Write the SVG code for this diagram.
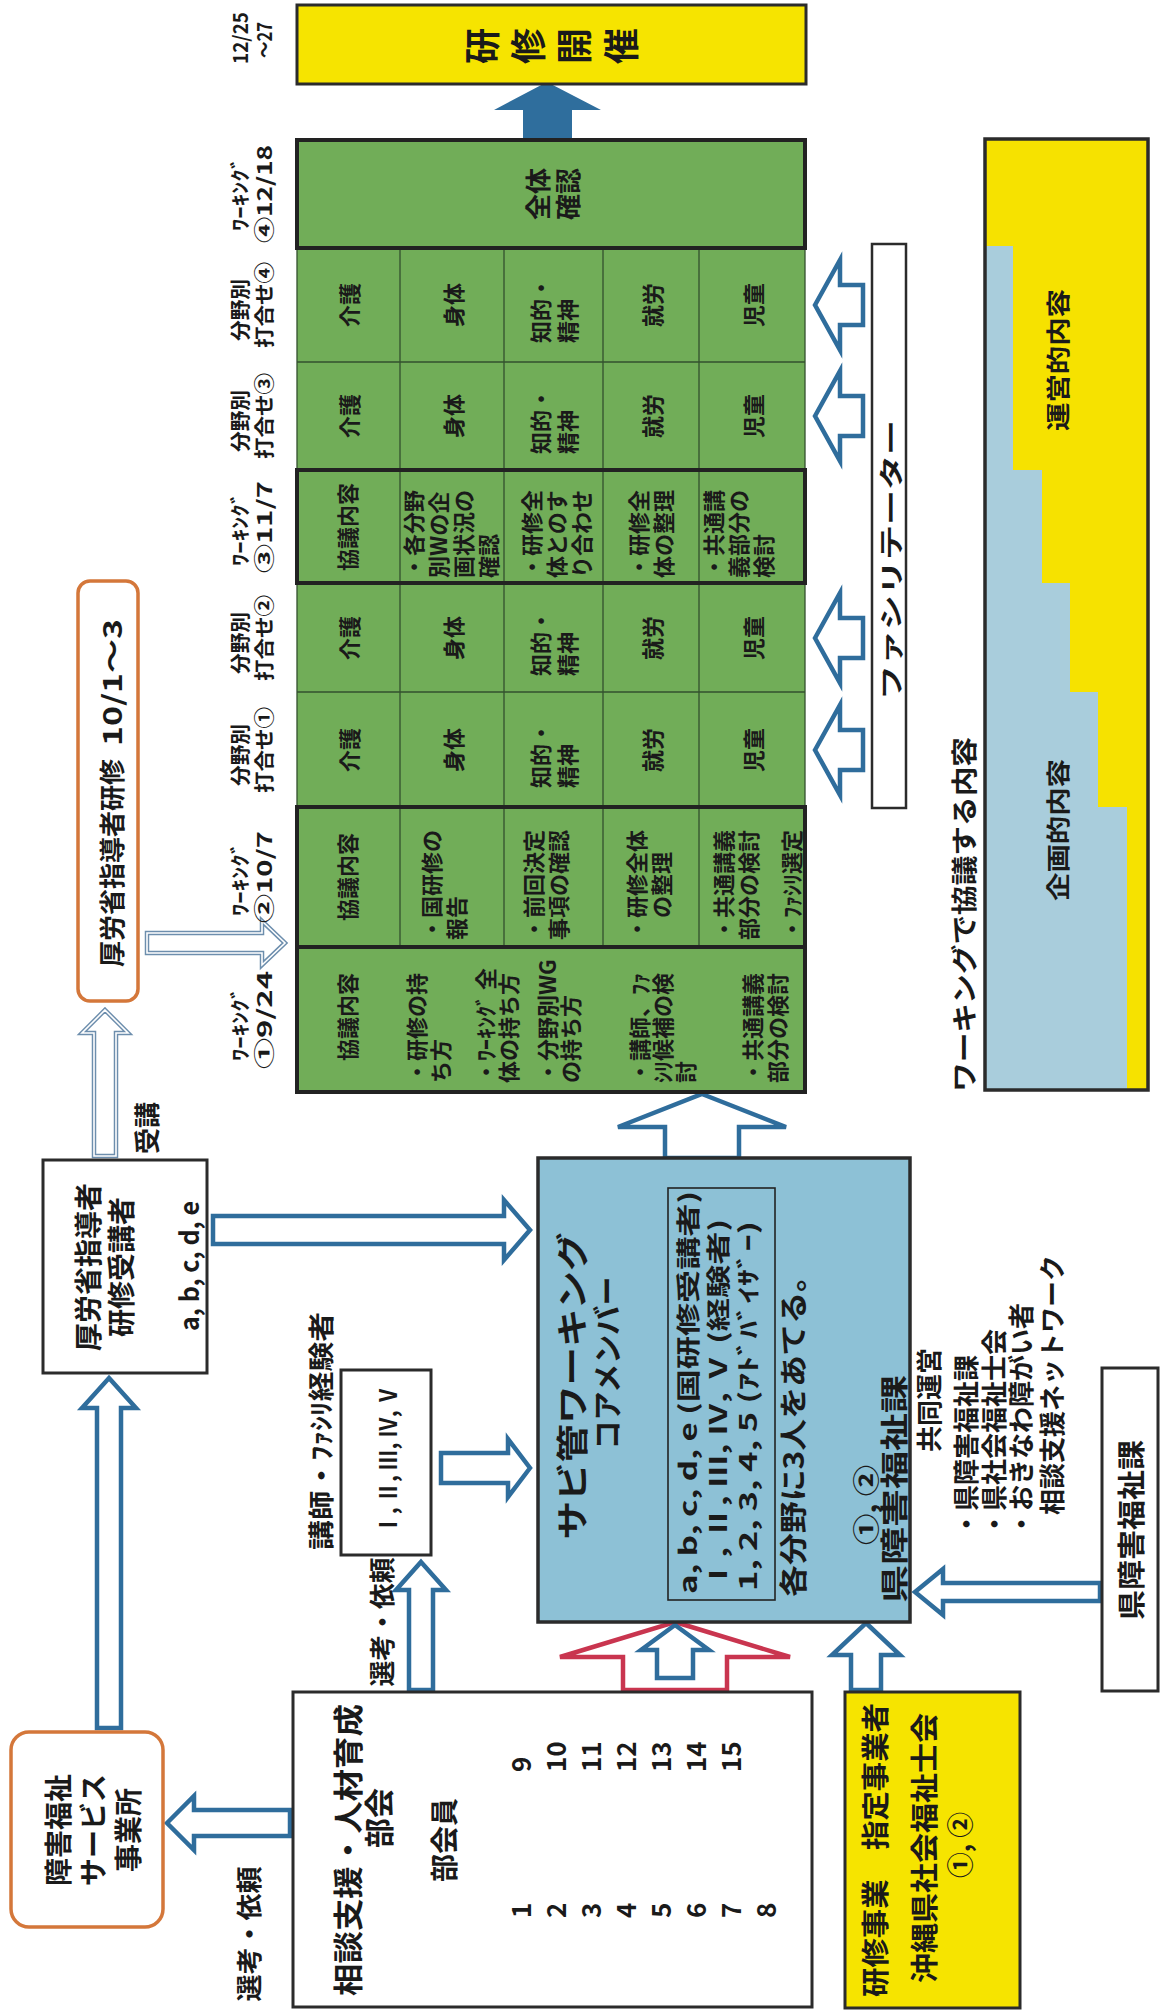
<svg xmlns="http://www.w3.org/2000/svg" width="1162" height="2010" viewBox="0 0 1162 2010">
<defs>
<style>
.t{font-family:"Noto Sans CJK JP","Noto Sans",sans-serif;font-weight:700;fill:#1a1a1a;dominant-baseline:central;text-anchor:middle}
.st{text-anchor:start}
.en{text-anchor:end}
.box{fill:#fff;stroke:#2b2b2b;stroke-width:3}
.ybox{fill:#f6e400;stroke:#2b2b2b;stroke-width:3}
.obox{fill:#fff;stroke:#d4773a;stroke-width:3.5}
.ha{fill:#fff;stroke:#2f6d9c;stroke-width:4.5;stroke-linejoin:miter}
.hr{fill:#fff;stroke:#c9354f;stroke-width:4.5;stroke-linejoin:miter}
.dl{fill:#fff;stroke:#6d8ead;stroke-width:4.5;stroke-linejoin:miter}
.dli{fill:none;stroke:#fff;stroke-width:1.6;stroke-linejoin:miter}
.green{fill:#71ad58}
.thin{stroke:#33502e;stroke-width:1.3;fill:none}
.thick{stroke:#222;stroke-width:4;fill:none}
.f20{font-size:20px}.f22{font-size:22px}.f24{font-size:24px}.f26{font-size:26px}.f28{font-size:28px}.f30{font-size:30px}
</style>
</defs>
<rect x="0" y="0" width="1162" height="2010" fill="#fff"/>

<g id="connectors">
  <polygon points="547,82 601,110 572,110 572,139 523,139 523,110 494,110" fill="#2f6e9d"/>
  <polygon class="ha" points="815,305 840,260 840,285 863,285 863,325 840,325 840,350"/>
  <polygon class="ha" points="815,416 840,371 840,396 863,396 863,436 840,436 840,461"/>
  <polygon class="ha" points="815,638 840,593 840,618 863,618 863,658 840,658 840,683"/>
  <polygon class="ha" points="815,750 840,705 840,730 863,730 863,770 840,770 840,795"/>
  <polygon class="dl" points="147,933 262,933 262,921 285,943 262,965 262,953 147,953"/>
  <polygon class="dli" points="147,933 262,933 262,921 285,943 262,965 262,953 147,953"/>
  <polygon class="dl" points="105,1010 128,1033 116,1033 116,1156 94,1156 94,1033 82,1033"/>
  <polygon class="dli" points="105,1010 128,1033 116,1033 116,1156 94,1156 94,1033 82,1033"/>
  <polygon class="ha" points="109,1378 136,1408 121,1408 121,1728 97,1728 97,1408 82,1408"/>
  <polygon class="ha" points="167,1823 194,1796 194,1810 290,1810 290,1836 194,1836 194,1850"/>
  <polygon class="ha" points="530,1230 504,1260 504,1244 213,1244 213,1216 504,1216 504,1200"/>
  <polygon class="ha" points="530,1468 508,1497 508,1483 441,1483 441,1453 508,1453 508,1439"/>
  <polygon class="ha" points="421,1562 446,1590 433,1590 433,1690 409,1690 409,1590 396,1590"/>
  <polygon class="hr" points="675,1622 790,1657 727,1657 727,1690 623,1690 623,1657 560,1657"/>
  <polygon class="ha" points="675,1625 709,1650 693,1650 693,1678 657,1678 657,1650 641,1650"/>
  <polygon class="ha" points="866,1623 900,1655 881,1655 881,1690 851,1690 851,1655 832,1655"/>
  <polygon class="ha" points="915,1592 943,1569 943,1583 1100,1583 1100,1601 943,1601 943,1615"/>
  <polygon class="ha" points="702,1094 786,1127 739,1127 739,1158 665,1158 665,1127 618,1127"/>
</g>

<g id="kaisai">
  <rect class="ybox" x="297" y="5" width="509" height="79"/>
  <text class="t" font-size="36" transform="translate(480,46) rotate(-90)">研</text>
  <text class="t" font-size="36" transform="translate(526,46) rotate(-90)">修</text>
  <text class="t" font-size="36" transform="translate(572,46) rotate(-90)">開</text>
  <text class="t" font-size="36" transform="translate(619,46) rotate(-90)">催</text>
</g>

<g id="schedule-labels">
  <text class="t f20" transform="translate(239,38) rotate(-90)" textLength="52" lengthAdjust="spacingAndGlyphs">12/25</text>
  <text class="t f20" transform="translate(263,40) rotate(-90)" textLength="36" lengthAdjust="spacingAndGlyphs">～27</text>
  <text class="t f20" transform="translate(239,194) rotate(-90)" textLength="74" lengthAdjust="spacingAndGlyphs">ﾜｰｷﾝｸﾞ</text>
  <text class="t f20" transform="translate(263,194) rotate(-90)" textLength="98" lengthAdjust="spacingAndGlyphs">④12/18</text>
  <text class="t f20" transform="translate(239,310) rotate(-90)" textLength="62" lengthAdjust="spacingAndGlyphs">分野別</text>
  <text class="t f20" transform="translate(263,305) rotate(-90)" textLength="86" lengthAdjust="spacingAndGlyphs">打合せ④</text>
  <text class="t f20" transform="translate(239,421) rotate(-90)" textLength="62" lengthAdjust="spacingAndGlyphs">分野別</text>
  <text class="t f20" transform="translate(263,416) rotate(-90)" textLength="86" lengthAdjust="spacingAndGlyphs">打合せ③</text>
  <text class="t f20" transform="translate(239,529) rotate(-90)" textLength="74" lengthAdjust="spacingAndGlyphs">ﾜｰｷﾝｸﾞ</text>
  <text class="t f20" transform="translate(263,527) rotate(-90)" textLength="92" lengthAdjust="spacingAndGlyphs">③11/7</text>
  <text class="t f20" transform="translate(239,643) rotate(-90)" textLength="62" lengthAdjust="spacingAndGlyphs">分野別</text>
  <text class="t f20" transform="translate(263,638) rotate(-90)" textLength="86" lengthAdjust="spacingAndGlyphs">打合せ②</text>
  <text class="t f20" transform="translate(239,755) rotate(-90)" textLength="62" lengthAdjust="spacingAndGlyphs">分野別</text>
  <text class="t f20" transform="translate(263,750) rotate(-90)" textLength="86" lengthAdjust="spacingAndGlyphs">打合せ①</text>
  <text class="t f20" transform="translate(239,879) rotate(-90)" textLength="74" lengthAdjust="spacingAndGlyphs">ﾜｰｷﾝｸﾞ</text>
  <text class="t f20" transform="translate(263,877) rotate(-90)" textLength="92" lengthAdjust="spacingAndGlyphs">②10/7</text>
  <text class="t f20" transform="translate(239,1024) rotate(-90)" textLength="74" lengthAdjust="spacingAndGlyphs">ﾜｰｷﾝｸﾞ</text>
  <text class="t f20" transform="translate(263,1020) rotate(-90)" textLength="98" lengthAdjust="spacingAndGlyphs">①9/24</text>
</g>

<g id="grid">
  <rect class="green" x="297" y="140" width="508" height="952"/>
  <rect class="thin" x="297" y="140" width="508" height="952"/>
  <path class="thin" d="M400,248V947M504,248V947M603,248V947M699,248V947M297,362H805M297,692H805"/>
  <rect class="thick" x="297" y="140" width="508" height="108"/>
  <rect class="thick" x="297" y="470" width="508" height="113"/>
  <rect class="thick" x="297" y="807" width="508" height="140"/>
  <rect class="thick" x="297" y="947" width="508" height="145"/>

  <text class="t f26" transform="translate(536,194) rotate(-90)">全体</text>
  <text class="t f26" transform="translate(566,194) rotate(-90)">確認</text>

  <text class="t f22" transform="translate(348,305) rotate(-90)">介護</text>
  <text class="t f22" transform="translate(452,305) rotate(-90)">身体</text>
  <text class="t f22 st" transform="translate(539,343) rotate(-90)">知的・</text>
  <text class="t f22 st" transform="translate(566,343) rotate(-90)">精神</text>
  <text class="t f22" transform="translate(651,305) rotate(-90)">就労</text>
  <text class="t f22" transform="translate(752,305) rotate(-90)">児童</text>

  <text class="t f22" transform="translate(348,416) rotate(-90)">介護</text>
  <text class="t f22" transform="translate(452,416) rotate(-90)">身体</text>
  <text class="t f22 st" transform="translate(539,454) rotate(-90)">知的・</text>
  <text class="t f22 st" transform="translate(566,454) rotate(-90)">精神</text>
  <text class="t f22" transform="translate(651,416) rotate(-90)">就労</text>
  <text class="t f22" transform="translate(752,416) rotate(-90)">児童</text>

  <text class="t f22" transform="translate(346,527) rotate(-90)">協議内容</text>
  <text class="t f22 st" transform="translate(412,578) rotate(-90)">・各分野</text>
  <text class="t f22 st" transform="translate(437,578) rotate(-90)">別Wの企</text>
  <text class="t f22 st" transform="translate(462,578) rotate(-90)">画状況の</text>
  <text class="t f22 st" transform="translate(487,578) rotate(-90)">確認</text>
  <text class="t f22 st" transform="translate(530,578) rotate(-90)">・研修全</text>
  <text class="t f22 st" transform="translate(555,578) rotate(-90)">体とのす</text>
  <text class="t f22 st" transform="translate(580,578) rotate(-90)">り合わせ</text>
  <text class="t f22 st" transform="translate(637,578) rotate(-90)">・研修全</text>
  <text class="t f22 st" transform="translate(662,578) rotate(-90)">体の整理</text>
  <text class="t f22 st" transform="translate(712,578) rotate(-90)">・共通講</text>
  <text class="t f22 st" transform="translate(737,578) rotate(-90)">義部分の</text>
  <text class="t f22 st" transform="translate(762,578) rotate(-90)">検討</text>

  <text class="t f22" transform="translate(348,638) rotate(-90)">介護</text>
  <text class="t f22" transform="translate(452,638) rotate(-90)">身体</text>
  <text class="t f22 st" transform="translate(539,676) rotate(-90)">知的・</text>
  <text class="t f22 st" transform="translate(566,676) rotate(-90)">精神</text>
  <text class="t f22" transform="translate(651,638) rotate(-90)">就労</text>
  <text class="t f22" transform="translate(752,638) rotate(-90)">児童</text>

  <text class="t f22" transform="translate(348,750) rotate(-90)">介護</text>
  <text class="t f22" transform="translate(452,750) rotate(-90)">身体</text>
  <text class="t f22 st" transform="translate(539,788) rotate(-90)">知的・</text>
  <text class="t f22 st" transform="translate(566,788) rotate(-90)">精神</text>
  <text class="t f22" transform="translate(651,750) rotate(-90)">就労</text>
  <text class="t f22" transform="translate(752,750) rotate(-90)">児童</text>

  <text class="t f22" transform="translate(346,877) rotate(-90)">協議内容</text>
  <text class="t f22 st" transform="translate(430,940) rotate(-90)">・国研修の</text>
  <text class="t f22 st" transform="translate(455,940) rotate(-90)">報告</text>
  <text class="t f22 st" transform="translate(532,940) rotate(-90)">・前回決定</text>
  <text class="t f22 st" transform="translate(557,940) rotate(-90)">事項の確認</text>
  <text class="t f22 st" transform="translate(635,940) rotate(-90)">・研修全体</text>
  <text class="t f22 st" transform="translate(660,918) rotate(-90)">の整理</text>
  <text class="t f22 st" transform="translate(722,940) rotate(-90)">・共通講義</text>
  <text class="t f22 st" transform="translate(747,940) rotate(-90)">部分の検討</text>
  <text class="t f22 st" transform="translate(790,940) rotate(-90)">・ﾌｧｼﾘ選定</text>

  <text class="t f22" transform="translate(346,1017) rotate(-90)">協議内容</text>
  <text class="t f22 st" transform="translate(415,1083) rotate(-90)">・研修の持</text>
  <text class="t f22 st" transform="translate(439,1083) rotate(-90)">ち方</text>
  <text class="t f22 st" transform="translate(484,1083) rotate(-90)">・ﾜｰｷﾝｸﾞ 全</text>
  <text class="t f22 st" transform="translate(507,1083) rotate(-90)">体の持ち方</text>
  <text class="t f22 st" transform="translate(546,1083) rotate(-90)">・分野別WG</text>
  <text class="t f22 st" transform="translate(569,1083) rotate(-90)">の持ち方</text>
  <text class="t f22 st" transform="translate(638,1083) rotate(-90)">・講師、ﾌｧ</text>
  <text class="t f22 st" transform="translate(661,1083) rotate(-90)">ｼﾘ候補の検</text>
  <text class="t f22 st" transform="translate(684,1083) rotate(-90)">討</text>
  <text class="t f22 st" transform="translate(751,1083) rotate(-90)">・共通講義</text>
  <text class="t f22 st" transform="translate(776,1083) rotate(-90)">部分の検討</text>
</g>

<g id="facilitator">
  <rect class="box" x="872" y="244" width="34" height="564" style="stroke-width:2.5"/>
  <text class="t f24" transform="translate(889,560) rotate(-90)" textLength="280" lengthAdjust="spacingAndGlyphs">ファシリテーター</text>
</g>

<g id="content-chart">
  <text class="t f26 st" transform="translate(962,1092) rotate(-90)" textLength="355" lengthAdjust="spacingAndGlyphs">ワーキングで協議する内容</text>
  <rect x="985" y="139" width="163" height="951" fill="#f6e200"/>
  <polygon points="985,246 1013,246 1013,470 1042,470 1042,583 1070,583 1070,692 1098,692 1098,807 1127,807 1127,1090 985,1090" fill="#a9cddc"/>
  <rect x="985" y="139" width="163" height="951" fill="none" stroke="#2b2b2b" stroke-width="3.5"/>
  <text class="t f24" transform="translate(1056,360) rotate(-90)" textLength="142" lengthAdjust="spacingAndGlyphs">運営的内容</text>
  <text class="t f24" transform="translate(1056,830) rotate(-90)" textLength="142" lengthAdjust="spacingAndGlyphs">企画的内容</text>
</g>

<g id="mhlw-training">
  <rect class="obox" x="78" y="581" width="60" height="420" rx="12"/>
  <text class="t f26 st" transform="translate(110,967) rotate(-90)">厚労省指導者研修</text>
  <text class="t f26 en" transform="translate(110,619) rotate(-90)" textLength="127" lengthAdjust="spacingAndGlyphs">10/1～3</text>
</g>

<g id="label-jukou">
  <text class="t f26" transform="translate(145,1128) rotate(-90)">受講</text>
</g>

<g id="mhlw-trainees">
  <rect class="box" x="43" y="1160" width="164" height="213"/>
  <text class="t f28" transform="translate(87,1267) rotate(-90)">厚労省指導者</text>
  <text class="t f28" transform="translate(120,1267) rotate(-90)">研修受講者</text>
  <text class="t f26" transform="translate(187,1266) rotate(-90)" textLength="130" lengthAdjust="spacingAndGlyphs">a, b, c, d, e</text>
</g>

<g id="service-offices">
  <rect class="obox" x="11" y="1732" width="152" height="195" rx="18"/>
  <text class="t f28" transform="translate(57,1830) rotate(-90)">障害福祉</text>
  <text class="t f28" transform="translate(92,1830) rotate(-90)">サービス</text>
  <text class="t f28" transform="translate(127,1830) rotate(-90)">事業所</text>
</g>

<g id="label-senko1">
  <text class="t f26" transform="translate(247,1934) rotate(-90)" textLength="135" lengthAdjust="spacingAndGlyphs">選考・依頼</text>
</g>

<g id="bukai">
  <rect class="box" x="293" y="1692" width="519" height="315"/>
  <text class="t f30" transform="translate(346,1850) rotate(-90)" textLength="292" lengthAdjust="spacingAndGlyphs">相談支援・人材育成</text>
  <text class="t f30" transform="translate(377,1818) rotate(-90)">部会</text>
  <text class="t f28" transform="translate(443,1840) rotate(-90)">部会員</text>
  <text class="t f26 st" transform="translate(519,1918) rotate(-90)">1</text>
  <text class="t f26 st" transform="translate(554,1918) rotate(-90)">2</text>
  <text class="t f26 st" transform="translate(589,1918) rotate(-90)">3</text>
  <text class="t f26 st" transform="translate(624,1918) rotate(-90)">4</text>
  <text class="t f26 st" transform="translate(659,1918) rotate(-90)">5</text>
  <text class="t f26 st" transform="translate(694,1918) rotate(-90)">6</text>
  <text class="t f26 st" transform="translate(729,1918) rotate(-90)">7</text>
  <text class="t f26 st" transform="translate(764,1918) rotate(-90)">8</text>
  <text class="t f26 st" transform="translate(519,1772) rotate(-90)">9</text>
  <text class="t f26 st" transform="translate(554,1772) rotate(-90)">10</text>
  <text class="t f26 st" transform="translate(589,1772) rotate(-90)">11</text>
  <text class="t f26 st" transform="translate(624,1772) rotate(-90)">12</text>
  <text class="t f26 st" transform="translate(659,1772) rotate(-90)">13</text>
  <text class="t f26 st" transform="translate(694,1772) rotate(-90)">14</text>
  <text class="t f26 st" transform="translate(729,1772) rotate(-90)">15</text>
</g>

<g id="lecturers">
  <text class="t f26 st" transform="translate(319,1550) rotate(-90)" textLength="238" lengthAdjust="spacingAndGlyphs">講師・ﾌｧｼﾘ経験者</text>
  <rect class="box" x="341" y="1370" width="90" height="185"/>
  <text class="t f24" transform="translate(386,1460) rotate(-90)" textLength="150" lengthAdjust="spacingAndGlyphs">Ⅰ, Ⅱ, Ⅲ, Ⅳ, Ⅴ</text>
</g>

<g id="label-senko2">
  <text class="t f26" transform="translate(380,1622) rotate(-90)" textLength="129" lengthAdjust="spacingAndGlyphs">選考・依頼</text>
</g>

<g id="sabikan-working">
  <rect x="538" y="1158" width="372" height="464" fill="#8dc1d6" stroke="#2b2b2b" stroke-width="3.5"/>
  <text class="t" font-size="32" transform="translate(570,1386) rotate(-90)" textLength="307" lengthAdjust="spacingAndGlyphs">サビ管ワーキング</text>
  <text class="t f30" transform="translate(605,1363) rotate(-90)" textLength="173" lengthAdjust="spacingAndGlyphs">コアメンバー</text>
  <rect x="668" y="1188" width="107" height="412" fill="none" stroke="#222" stroke-width="1.6"/>
  <text class="t f24 st" transform="translate(686,1594) rotate(-90)" textLength="403" lengthAdjust="spacingAndGlyphs">a, b, c, d, e (国研修受講者)</text>
  <text class="t f24 st" transform="translate(716,1591) rotate(-90)" textLength="372" lengthAdjust="spacingAndGlyphs">Ⅰ, Ⅱ, Ⅲ, Ⅳ, Ⅴ (経験者)</text>
  <text class="t f24 st" transform="translate(746,1591) rotate(-90)" textLength="370" lengthAdjust="spacingAndGlyphs">1, 2, 3, 4, 5 (ｱﾄﾞﾊﾞｲｻﾞｰ)</text>
  <text class="t f28 st" transform="translate(792,1597) rotate(-90)" textLength="337" lengthAdjust="spacingAndGlyphs">各分野に3人をあてる。</text>
  <text class="t f26 st" transform="translate(864,1545) rotate(-90)" textLength="80" lengthAdjust="spacingAndGlyphs">①, ②</text>
  <text class="t f28 st" transform="translate(893,1603) rotate(-90)" textLength="228" lengthAdjust="spacingAndGlyphs">県障害福祉課</text>
</g>

<g id="joint-operation">
  <text class="t f26" transform="translate(927,1400) rotate(-90)">共同運営</text>
  <text class="t f26 st" transform="translate(964,1537) rotate(-90)">・県障害福祉課</text>
  <text class="t f26 st" transform="translate(992,1537) rotate(-90)">・県社会福祉士会</text>
  <text class="t f26 st" transform="translate(1019,1537) rotate(-90)">・おきなわ障がい者</text>
  <text class="t f26 st" transform="translate(1050,1515) rotate(-90)">相談支援ネットワーク</text>
</g>

<g id="pref-division">
  <rect class="box" x="1102" y="1368" width="56" height="323"/>
  <text class="t f28" transform="translate(1130,1530) rotate(-90)" textLength="180" lengthAdjust="spacingAndGlyphs">県障害福祉課</text>
</g>

<g id="training-provider">
  <rect class="ybox" x="845" y="1692" width="175" height="316"/>
  <text class="t f28" transform="translate(874,1850) rotate(-90)" textLength="294" lengthAdjust="spacingAndGlyphs">研修事業　指定事業者</text>
  <text class="t f28" transform="translate(923,1848) rotate(-90)" textLength="270" lengthAdjust="spacingAndGlyphs">沖縄県社会福祉士会</text>
  <text class="t f26" transform="translate(958,1845) rotate(-90)" textLength="66" lengthAdjust="spacingAndGlyphs">①, ②</text>
</g>
</svg>
